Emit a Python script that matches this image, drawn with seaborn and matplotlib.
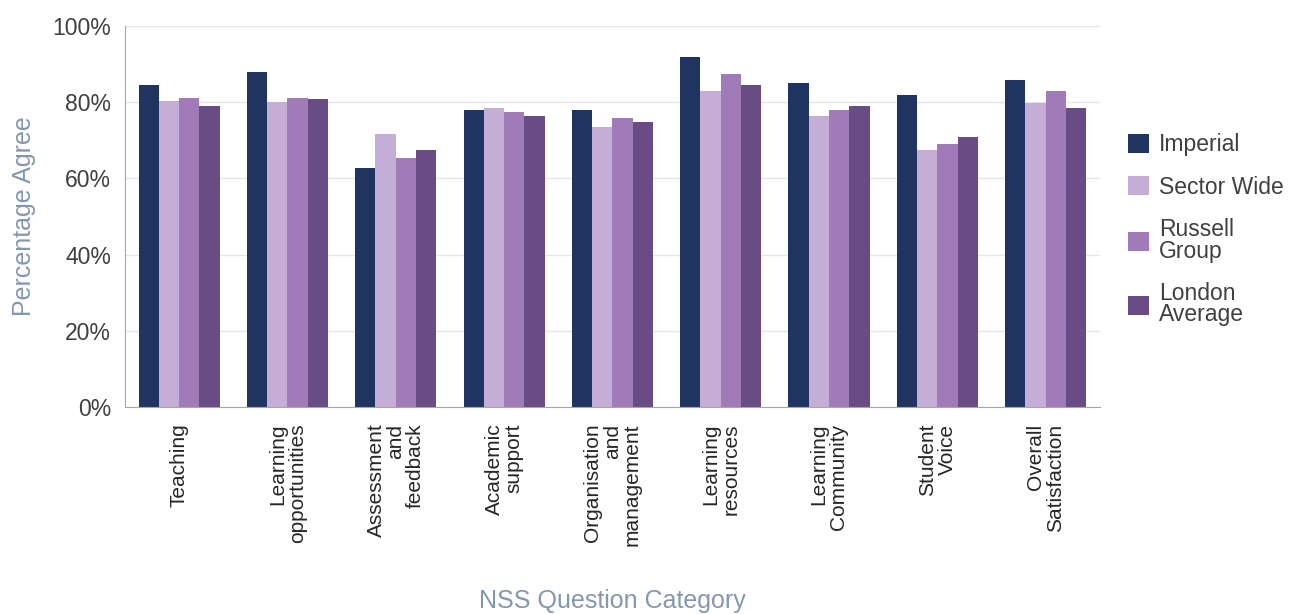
import pandas as pd
import matplotlib.pyplot as plt
import seaborn as sns

# -------------------- DATA --------------------
categories = ["Teaching", "Learning\nopportunities", "Assessment\nand\nfeedback",
              "Academic\nsupport", "Organisation\nand\nmanagement", "Learning\nresources",
              "Learning\nCommunity", "Student\nVoice", "Overall\nSatisfaction"]
groups = ["Imperial", "Sector Wide", "Russell\nGroup", "London\nAverage"]

imperial = [84.5, 87.8, 62.7, 78.0, 78.0, 91.7, 85.0, 81.9, 85.7]
sector_wide = [80.3, 80.1, 71.7, 78.5, 73.4, 82.8, 76.4, 67.5, 79.7]
russell_group = [81.1, 81.0, 65.4, 77.3, 75.9, 87.3, 78.0, 69.1, 82.8]
london_average = [79.0, 80.7, 67.5, 76.4, 74.7, 84.5, 79.0, 70.9, 78.5]

colors = ["#1f3461", "#c5aed5", "#a07bb7", "#6a4c85"]

# -------------------- BUILD TABLE --------------------
rows = []
for grp, vals in zip(groups, [imperial, sector_wide, russell_group, london_average]):
    for cat, v in zip(categories, vals):
        rows.append({"category": cat, "group": grp, "value": v})
df = pd.DataFrame(rows)

# -------------------- PLOT --------------------
sns.set_style("white")
plt.rcParams['font.family'] = ['Liberation Sans', 'DejaVu Sans']

fig = plt.figure(figsize=(12.94, 6.14), dpi=100)
ax = fig.add_axes([0.0966, 0.337, 0.7534, 0.621])

sns.barplot(data=df, x="category", y="value", hue="group", order=categories,
            hue_order=groups, palette=dict(zip(groups, colors)), width=0.75,
            saturation=1, linewidth=0, ax=ax, legend=True)

ax.set_ylim(0, 100)
ax.set_yticks(range(0, 101, 20))
ax.set_yticklabels([f"{t}%" for t in range(0, 101, 20)], fontsize=16.5, color="#404040")
ax.grid(axis="y", color="#e6e6e6", linewidth=1)
ax.set_axisbelow(True)

for lbl in ax.get_xticklabels():
    lbl.set_rotation(90)
    lbl.set_multialignment("right")
    lbl.set_linespacing(1.05)
    lbl.set_fontsize(15)
    lbl.set_color("#262626")

ax.tick_params(axis="both", length=0)
ax.tick_params(axis="y", pad=10)
ax.tick_params(axis="x", pad=12)
ax.set_xlabel("NSS Question Category", fontsize=18, color="#8497b0", labelpad=31)
ax.set_ylabel("Percentage Agree", fontsize=18, color="#8497b0", labelpad=12)

for side in ["top", "right"]:
    ax.spines[side].set_visible(False)
for side in ["left", "bottom"]:
    ax.spines[side].set_color("#a6a6a6")

leg = ax.legend(loc="center left", bbox_to_anchor=(1.008, 0.465), frameon=False,
                fontsize=16.5, handlelength=0.9, handleheight=0.9, labelspacing=0.85,
                handletextpad=0.45, labelcolor="#404040")
for t in leg.get_texts():
    t.set_linespacing(0.9)

plt.savefig("out.png", dpi=100)
